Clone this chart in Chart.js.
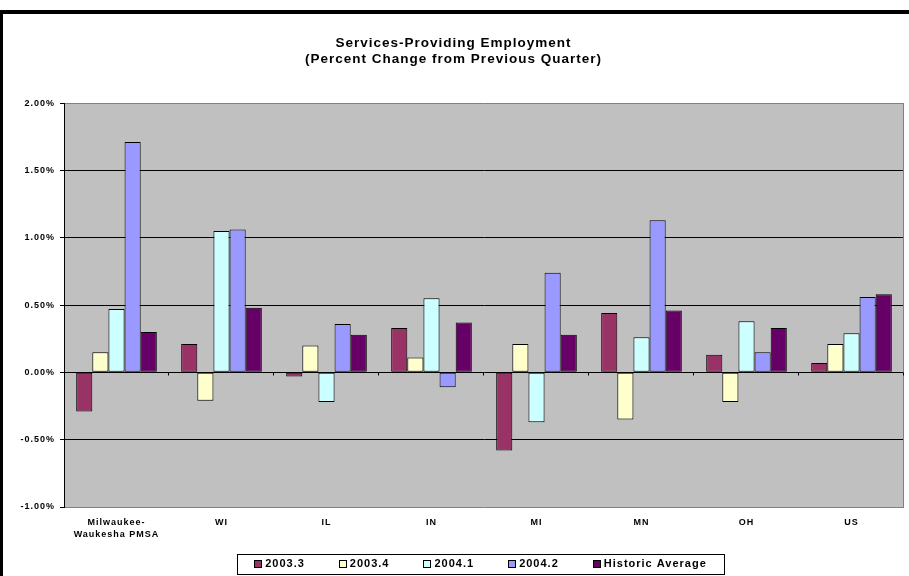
<!DOCTYPE html>
<html>
<head>
<meta charset="utf-8">
<title>Services-Providing Employment</title>
<script src="https://cdn.jsdelivr.net/npm/chart.js@4.4.1/dist/chart.umd.min.js"></script>
<style>
  html, body { margin: 0; padding: 0; background: #fff; }
  #frame {
    position: absolute; left: 0; top: 10px;
    width: 909px; height: 566px; box-sizing: border-box;
    border-top: 4px solid #000; border-left: 3px solid #000;
  }
  canvas { display: block; }
</style>
</head>
<body>
<div id="frame"><canvas id="servicesChart" width="906" height="562"></canvas></div>
<script>
// Percent change from previous quarter, by area
const categories = [['Milwaukee-', 'Waukesha PMSA'], 'WI', 'IL', 'IN', 'MI', 'MN', 'OH', 'US'];
const q2003_3 = [-0.29, 0.21, -0.03, 0.33, -0.58, 0.44, 0.13, 0.07];
const q2003_4 = [0.15, -0.21, 0.20, 0.11, 0.21, -0.35, -0.22, 0.21];
const q2004_1 = [0.47, 1.05, -0.22, 0.55, -0.37, 0.26, 0.38, 0.29];
const q2004_2 = [1.71, 1.06, 0.36, -0.11, 0.74, 1.13, 0.15, 0.56];
const historicAvg = [0.30, 0.48, 0.28, 0.37, 0.28, 0.46, 0.33, 0.58];

const seriesNames = ['2003.3', '2003.4', '2004.1', '2004.2', 'Historic Average'];
const seriesColors = ['#993366', '#FFFFCC', '#CCFFFF', '#9999FF', '#660066'];
const yMin = -1, yMax = 2, yStep = 0.5;

const FONT = "'Liberation Sans', Arial, sans-serif";

// all the text is tracked out a little
const tracking = {
  id: 'tracking',
  beforeUpdate(chart) { chart.ctx.letterSpacing = '1px'; },
  beforeDraw(chart) { chart.ctx.letterSpacing = '1px'; }
};

// grey plot background, right edge and small ticks on the zero line
const plotFrame = {
  id: 'plotFrame',
  beforeDraw(chart) {
    const { ctx, chartArea: a } = chart;
    ctx.save();
    ctx.fillStyle = '#C0C0C0';
    ctx.fillRect(a.left, a.top, a.right - a.left, a.bottom - a.top);
    ctx.restore();
  },
  afterDraw(chart) {
    const { ctx, chartArea: a, scales: { x, y } } = chart;
    ctx.save();
    ctx.lineWidth = 1;
    ctx.strokeStyle = '#808080';
    ctx.beginPath();
    ctx.moveTo(Math.round(a.right) - 0.5, a.top);
    ctx.lineTo(Math.round(a.right) - 0.5, a.bottom);
    ctx.stroke();

    const y0 = Math.round(y.getPixelForValue(0)) + 0.5;
    const step = x.width / categories.length;
    ctx.strokeStyle = '#000';
    ctx.beginPath();
    for (let i = 1; i <= categories.length; i++) {
      const px = Math.round(x.left + i * step) - 0.5;
      ctx.moveTo(px, y0);
      ctx.lineTo(px, y0 + 3);
    }
    ctx.stroke();
    ctx.restore();
  }
};

// boxed legend row under the axis labels
const boxLegend = {
  id: 'boxLegend',
  afterDraw(chart) {
    const { ctx, chartArea: a } = chart;
    const sw = 8, textGap = 3, itemGap = 34, margin = 17;
    ctx.save();
    ctx.letterSpacing = '1px';
    ctx.font = 'bold 11px ' + FONT;
    const items = chart.data.datasets.map(ds => ({
      label: ds.label,
      color: ds.backgroundColor,
      w: sw + textGap + ctx.measureText(ds.label).width
    }));
    const total = items.reduce((s, it) => s + it.w, 0) + itemGap * (items.length - 1);
    const cx = (a.left + a.right) / 2 - 3.5;
    const cy = a.bottom + 56.5;
    let x = cx - total / 2;

    ctx.strokeStyle = '#000';
    ctx.lineWidth = 1;
    ctx.strokeRect(Math.round(x - margin) + 0.5, Math.round(cy - 10) + 0.5,
      Math.round(total + 2 * margin), 20);

    ctx.textBaseline = 'middle';
    ctx.textAlign = 'left';
    items.forEach(it => {
      const rx = Math.round(x), ry = Math.round(cy - 4);
      ctx.fillStyle = it.color;
      ctx.fillRect(rx, ry, sw, sw);
      ctx.strokeRect(rx + 0.5, ry + 0.5, sw - 1, sw - 1);
      ctx.fillStyle = '#000';
      ctx.fillText(it.label, x + sw + textGap, cy + 0.5);
      x += it.w + itemGap;
    });
    ctx.restore();
  }
};

const seriesData = [q2003_3, q2003_4, q2004_1, q2004_2, historicAvg];

const ctx = document.getElementById('servicesChart').getContext('2d');
new Chart(ctx, {
  type: 'bar',
  data: {
    labels: categories,
    datasets: seriesData.map((d, i) => ({
      label: seriesNames[i],
      data: d,
      backgroundColor: seriesColors[i],
      borderColor: '#000',
      borderWidth: 1,
      borderSkipped: false,
      categoryPercentage: 0.768,
      barPercentage: 1
    }))
  },
  options: {
    responsive: false,
    animation: false,
    events: [],
    layout: { padding: { top: 0, right: 5, bottom: 36, left: 0 } },
    plugins: {
      legend: { display: false },
      tooltip: { enabled: false },
      title: {
        display: true,
        text: ['Services-Providing Employment', '(Percent Change from Previous Quarter)'],
        color: '#000',
        font: { family: FONT, size: 13.5, weight: 'bold', lineHeight: 1.15 },
        padding: { top: 22, bottom: 36 }
      }
    },
    scales: {
      x: {
        afterFit(scale) { scale.height = 33; },
        grid: { display: false, drawTicks: false },
        border: { display: false },
        ticks: {
          padding: 9,
          color: '#000',
          autoSkip: false,
          maxRotation: 0,
          font: { family: FONT, size: 9, weight: 'bold', lineHeight: 1.37 }
        }
      },
      y: {
        min: yMin,
        max: yMax,
        afterFit(scale) { scale.width = 61; },
        ticks: {
          stepSize: yStep,
          padding: 5,
          color: '#000',
          font: { family: FONT, size: 9, weight: 'bold' },
          callback: v => v.toFixed(2) + '%'
        },
        grid: {
          color: c => (c.tick && (c.tick.value === yMax || c.tick.value === yMin)) ? '#808080' : '#000',
          tickColor: '#000',
          tickLength: 4,
          lineWidth: 1
        },
        border: { color: '#000', width: 1 }
      }
    }
  },
  plugins: [tracking, plotFrame, boxLegend]
});
</script>
</body>
</html>
